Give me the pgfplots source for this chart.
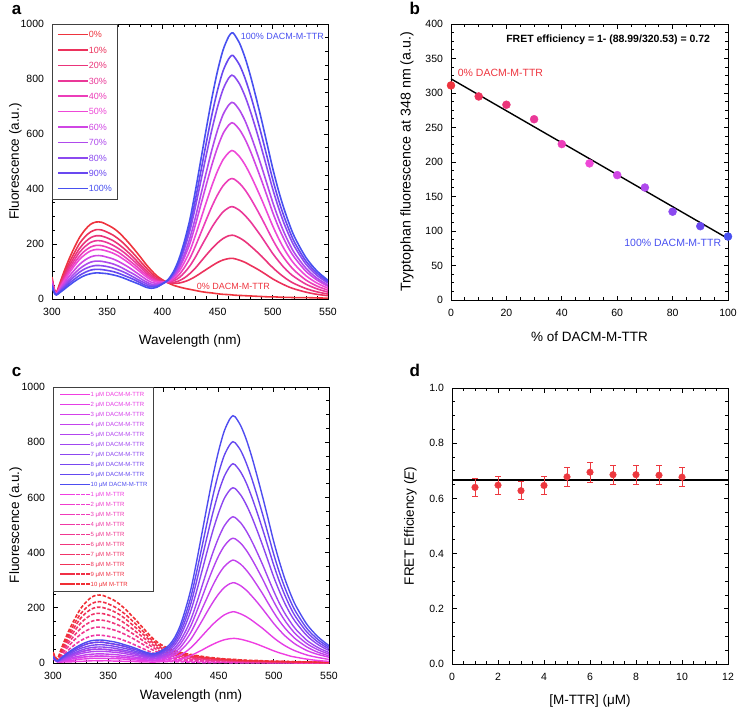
\documentclass[border=0pt]{standalone}
\usepackage{pgfplots}
\pgfplotsset{compat=1.18}
\usepackage{pgfplotstable}
\usepackage{fontspec}
\setmainfont{Liberation Sans}

\definecolor{c0}{RGB}{238,52,62}
\definecolor{c10}{RGB}{236,50,92}
\definecolor{c20}{RGB}{234,52,122}
\definecolor{c30}{RGB}{234,56,152}
\definecolor{c40}{RGB}{236,62,185}
\definecolor{c50}{RGB}{238,72,215}
\definecolor{c60}{RGB}{208,70,228}
\definecolor{c70}{RGB}{175,74,236}
\definecolor{c80}{RGB}{140,74,240}
\definecolor{c90}{RGB}{105,72,240}
\definecolor{c100}{RGB}{72,80,240}

\definecolor{cs1}{RGB}{240,62,225}
\definecolor{cs2}{RGB}{228,62,230}
\definecolor{cs3}{RGB}{212,64,234}
\definecolor{cs4}{RGB}{195,66,237}
\definecolor{cs5}{RGB}{178,68,239}
\definecolor{cs6}{RGB}{160,70,240}
\definecolor{cs7}{RGB}{140,70,240}
\definecolor{cs8}{RGB}{120,70,240}
\definecolor{cs9}{RGB}{100,72,240}
\definecolor{cs10}{RGB}{78,76,240}
\definecolor{cm1}{RGB}{240,62,225}
\definecolor{cm2}{RGB}{240,60,205}
\definecolor{cm3}{RGB}{240,58,185}
\definecolor{cm4}{RGB}{240,56,165}
\definecolor{cm5}{RGB}{240,55,145}
\definecolor{cm6}{RGB}{240,54,125}
\definecolor{cm7}{RGB}{240,52,105}
\definecolor{cm8}{RGB}{240,50,88}
\definecolor{cm9}{RGB}{240,48,70}
\definecolor{cm10}{RGB}{240,46,52}
\definecolor{dred}{RGB}{236,56,62}

\pgfplotstableread{
w a0 a10 a20 a30 a40 a50 a60 a70 a80 a90 a100
300 80 75 71 68 65 62 58 55 52 49 47
302 37 35 33 32 31 29 28 26 25 24 23
304 24 23 22 21 20 19 18 17 16 15 15
307 56 51 47 44 41 38 34 31 28 25 23
310 90 81 74 69 63 59 52 46 41 36 32
315 141 127 116 107 98 91 80 70 62 55 48
320 185 166 152 140 129 119 104 91 81 71 63
325 224 202 184 170 156 144 126 110 98 86 76
330 252 227 207 191 176 162 142 124 110 97 86
335 272 244 223 206 189 175 153 134 118 105 92
340 280 252 230 212 195 180 158 138 122 108 95
345 279 251 229 211 194 179 157 137 121 107 94
350 270 243 222 205 188 174 152 133 118 104 92
355 259 233 213 196 180 167 146 128 113 100 88
360 244 219 200 184 170 157 137 120 106 94 83
365 224 202 184 170 156 144 126 110 98 86 76
370 202 181 166 153 140 130 114 99 88 78 68
375 178 160 146 135 124 114 100 88 77 69 60
380 153 137 125 116 106 98 86 75 66 59 52
385 127 115 105 96 89 82 72 63 56 49 43
390 104 94 86 80 74 69 61 54 48 44 39
395 84 78 72 68 65 62 57 52 49 46 43
400 70 67 65 63 62 62 60 57 56 55 55
405 59 60 60 61 63 65 66 66 68 68 70
410 50 57 60 66 71 77 82 85 91 94 99
415 44 58 66 77 88 100 110 117 128 136 145
420 39 63 77 96 115 134 152 164 183 196 211
425 35 71 93 121 149 176 203 223 250 269 291
430 31 82 113 153 193 232 271 298 337 364 396
435 27 95 137 190 242 293 345 382 432 468 510
440 24 108 161 226 291 355 419 465 528 573 625
445 22 121 184 262 338 414 490 545 619 673 734
450 19 133 204 292 379 466 552 615 699 760 830
455 17 142 220 317 412 507 602 671 763 830 906
460 16 147 230 332 433 532 632 705 803 873 954
463 15 148 232 336 438 540 641 715 814 886 968
465 14 147 231 334 436 537 638 712 810 881 963
470 13 141 222 322 420 517 615 686 781 850 929
475 12 133 209 303 396 487 580 647 736 801 876
480 11 122 192 280 365 449 535 596 679 739 808
485 10 111 174 253 330 406 483 539 614 668 730
490 9 99 155 225 293 361 429 479 545 593 648
495 8 86 134 195 254 313 372 415 472 514 561
500 8 73 114 165 215 265 314 351 399 434 474
505 7 62 96 139 180 222 263 294 334 363 397
510 6 52 80 115 150 184 219 244 277 302 330
515 6 43 66 95 124 152 180 201 229 249 272
520 5 36 55 79 102 125 149 165 188 204 223
530 5 25 38 54 69 85 101 112 127 138 151
540 4 17 26 37 47 58 69 76 86 94 102
550 3 12 18 25 32 39 46 51 58 63 68
}\tabA

\pgfplotstableread{
w s1 s2 s3 s4 s5 s6 s7 s8 s9 s10 m1 m2 m3 m4 m5 m6 m7 m8 m9 m10
300 16 17 18 18 19 20 21 22 23 23 18 20 23 25 28 31 33 35 37 40
302 9 9 10 10 11 11 11 12 12 13 10 11 13 14 16 17 19 20 21 23
304 4 5 5 5 6 6 6 7 7 7 5 6 7 8 9 10 11 12 13 14
307 3 5 7 8 10 11 12 14 16 17 7 11 16 20 25 30 34 38 42 46
310 4 6 9 11 14 17 19 22 24 27 9 17 24 32 41 49 57 64 70 77
315 4 9 13 17 21 25 29 33 38 42 13 25 38 51 65 78 90 101 111 123
320 5 11 17 22 28 33 38 44 50 55 17 33 50 67 86 103 119 133 147 162
325 6 14 20 26 34 40 46 53 60 66 20 40 60 81 104 125 144 162 178 197
330 7 15 23 30 38 45 52 59 68 75 23 45 68 91 117 140 162 182 200 221
335 8 17 24 32 41 49 56 64 73 81 24 49 73 98 126 151 175 196 215 239
340 8 17 25 33 42 50 58 66 75 83 25 50 75 101 130 156 180 202 222 246
345 8 17 25 33 42 50 58 66 75 83 25 50 75 100 129 155 179 201 221 245
350 8 16 24 32 41 48 56 64 72 80 24 48 72 97 125 151 174 195 214 237
355 7 16 23 31 39 46 54 61 69 77 23 46 69 93 120 144 167 187 205 228
360 7 15 22 29 37 44 50 57 65 72 22 44 65 88 113 136 157 176 193 214
365 6 14 20 26 34 40 46 53 60 66 20 40 60 81 104 125 144 162 178 197
370 6 12 18 24 30 36 42 48 54 60 18 36 54 73 94 112 130 145 160 177
375 5 11 16 21 27 32 37 42 48 53 16 32 48 64 83 99 114 128 141 156
380 4 9 14 18 23 27 32 36 41 45 14 27 41 55 71 85 98 110 121 134
385 4 8 11 15 19 23 26 30 34 38 11 23 34 46 59 71 82 92 101 112
390 3 7 10 14 17 21 24 27 31 34 9 19 28 37 48 58 67 75 82 91
395 4 8 12 16 19 23 27 31 35 38 8 15 23 30 39 47 54 61 67 74
400 5 10 16 20 25 29 35 40 44 49 6 13 19 25 33 39 45 51 56 62
405 6 13 20 26 32 38 45 51 57 64 5 11 16 21 27 33 38 42 47 52
410 9 19 29 37 46 54 64 73 81 91 5 9 14 18 23 28 32 36 40 44
415 13 28 43 55 67 79 94 107 120 133 4 8 12 16 20 24 28 32 35 39
420 19 40 63 81 98 115 138 156 174 195 4 7 11 14 18 22 25 28 31 34
425 27 56 87 112 136 159 191 217 241 269 3 6 9 13 16 20 23 25 28 31
430 37 76 119 152 185 216 259 295 328 366 3 6 8 11 14 17 20 22 24 27
435 47 98 153 196 238 279 334 380 422 472 2 5 7 10 13 15 18 20 22 24
440 58 120 188 240 292 342 410 465 517 578 2 4 7 9 11 14 16 18 19 21
445 68 141 221 283 343 402 482 547 608 680 2 4 6 8 10 12 14 16 17 19
450 77 159 250 320 388 454 544 619 688 768 2 3 5 7 9 11 12 14 15 17
455 84 174 273 349 423 496 595 675 751 839 2 3 5 6 8 10 11 13 14 15
460 88 183 287 367 446 522 626 711 790 883 1 3 4 6 7 9 10 11 12 14
463 89 186 291 373 452 530 635 722 802 896 1 3 4 5 7 8 10 11 12 13
465 89 185 290 371 450 527 632 718 798 892 1 3 4 5 7 8 9 10 11 13
470 86 178 280 358 434 508 609 692 770 860 1 2 3 5 6 7 8 9 10 11
475 81 168 264 337 409 479 574 653 725 811 1 2 3 4 5 7 8 8 9 10
480 75 155 243 311 377 442 530 602 669 748 1 2 3 4 5 6 7 8 8 9
485 68 140 220 281 341 400 479 544 605 676 1 2 3 4 5 5 6 7 8 9
490 60 125 195 250 303 355 425 483 537 600 1 2 2 3 4 5 6 6 7 8
495 52 108 169 216 262 307 368 418 465 520 1 1 2 3 4 5 5 6 6 7
500 44 91 143 183 222 260 311 354 393 439 1 1 2 3 4 4 5 5 6 7
505 37 76 120 153 186 217 261 296 329 368 1 1 2 3 3 4 5 5 6 6
510 31 63 99 127 154 180 216 246 273 305 1 1 2 2 3 4 4 5 5 6
515 25 52 82 105 127 149 178 202 225 252 1 1 2 2 3 3 4 4 5 5
520 21 43 67 86 104 122 147 166 185 207 0 1 1 2 2 3 3 4 4 5
530 14 29 45 58 70 82 99 112 125 140 0 1 1 2 2 2 3 3 4 4
540 9 20 31 39 48 56 67 76 85 95 0 1 1 1 2 2 2 3 3 3
550 6 13 21 26 32 38 45 51 57 63 0 1 1 1 1 2 2 2 2 3
}\tabC

\pgfplotstableread{
x y e
1 0.640 0.033
2 0.648 0.033
3 0.628 0.033
4 0.647 0.033
5 0.678 0.035
6 0.695 0.036
7 0.686 0.035
8 0.686 0.035
9 0.684 0.035
10 0.677 0.035
}\tabD

\pgfplotsset{
  panel/.style={
    scale only axis, anchor=south west,
    axis line style={line width=0.8pt, black},
    tick style={black, line width=0.8pt},
    major tick length=4.5pt, minor tick length=3pt,
    tick label style={font=\fontsize{10.5}{12}\selectfont},
    label style={font=\fontsize{13.5}{16}\selectfont},
    /pgf/number format/assume math mode=true,
    /pgf/number format/1000 sep={},
    xticklabel style={yshift=-5.5pt},
    yticklabel style={xshift=-4.5pt},
  },
}

\begin{document}
\begin{tikzpicture}
\path[use as bounding box] (0pt,0pt) rectangle (738pt,-709pt);
\tikzset{plab/.style={anchor=base west, inner sep=0pt, font=\fontsize{17}{17}\selectfont\bfseries}}
\node[plab] at (11.7pt,-15pt) {a};
\node[plab] at (409.3pt,-15pt) {b};
\node[plab] at (11.7pt,-376.7pt) {c};
\node[plab] at (409.3pt,-376.7pt) {d};

% ---------------- panel a ----------------
\begin{axis}[panel, at={(52pt,-299pt)}, width=276pt, height=275pt,
  xmin=300, xmax=550, ymin=0, ymax=1000,
  xtick={300,350,...,550}, ytick={0,200,...,1000},
  minor x tick num=4, minor y tick num=3,
  xlabel={Wavelength (nm)}, ylabel={Fluorescence (a.u.)},
  xlabel style={at={(axis description cs:0.5,-0.165)}, anchor=base},
  ylabel style={at={(axis description cs:-0.12,0.5)}, anchor=base},
  every axis plot/.append style={line width=1.6pt, smooth},
  legend style={at={(0,1)}, anchor=north west, draw=black!75, line width=0.6pt,
    fill=white, inner xsep=5pt, inner ysep=7pt, row sep=8.9pt, column sep=0pt,
    font=\fontsize{9}{9}\selectfont,
    nodes={inner sep=0pt, text height=6.5pt, text depth=0pt}},
  legend cell align=left,
  legend image code/.code={\draw[#1, line width=1.6pt] (0pt,0pt) -- (26pt,0pt); \path (0pt,0pt) -- (30pt,0pt);},
  legend entries={\textcolor{c0}{0\%},\textcolor{c10}{10\%},\textcolor{c20}{20\%},\textcolor{c30}{30\%},\textcolor{c40}{40\%},\textcolor{c50}{50\%},\textcolor{c60}{60\%},\textcolor{c70}{70\%},\textcolor{c80}{80\%},\textcolor{c90}{90\%},\textcolor{c100}{100\%}},
]
\pgfplotsinvokeforeach{0,10,20,30,40,50,60,70,80,90,100}{
  \addplot[c#1] table[x=w, y=a#1] {\tabA};
}
\node[anchor=west, inner sep=0pt, text=c100, font=\fontsize{9}{9}\selectfont] at (axis cs:471,956) {100\% DACM-M-TTR};
\node[anchor=west, inner sep=0pt, text=c0, font=\fontsize{9}{9}\selectfont] at (axis cs:431,47) {0\% DACM-M-TTR};
\end{axis}

% ---------------- panel b ----------------
\begin{axis}[panel, at={(451pt,-300pt)}, width=277pt, height=276pt,
  xmin=0, xmax=100, ymin=0, ymax=400,
  xtick={0,20,...,100}, ytick={0,50,...,400},
  minor x tick num=3, minor y tick num=3,
  xlabel={\% of DACM-M-TTR}, ylabel={Tryptophan fluorescence at 348 nm (a.u.)},
  xlabel style={at={(axis description cs:0.5,-0.151)}, anchor=base},
  ylabel style={at={(axis description cs:-0.146,0.5)}, anchor=base, font=\fontsize{14.2}{16}\selectfont},
  clip=false,
  scatter/classes={
    p0={mark=*, draw=c0, fill=c0}, p10={mark=*, draw=c10, fill=c10},
    p20={mark=*, draw=c20, fill=c20}, p30={mark=*, draw=c30, fill=c30},
    p40={mark=*, draw=c40, fill=c40}, p50={mark=*, draw=c50, fill=c50},
    p60={mark=*, draw=c60, fill=c60}, p70={mark=*, draw=c70, fill=c70},
    p80={mark=*, draw=c80, fill=c80}, p90={mark=*, draw=c90, fill=c90},
    p100={mark=*, draw=c100, fill=c100}},
]
\addplot[black, line width=1.4pt] coordinates {(0,320.53) (100,88.99)};
\addplot[scatter, only marks, mark size=4pt, point meta=explicit symbolic] coordinates {
  (0,311) [p0] (10,295) [p10] (20,283) [p20] (30,262) [p30] (40,226) [p40]
  (50,198) [p50] (60,181) [p60] (70,163) [p70] (80,128) [p80] (90,107) [p90] (100,92) [p100]
};
\node[anchor=west, inner sep=0pt, font=\fontsize{10.5}{12}\selectfont\bfseries] at (axis cs:19.9,376.8) {FRET efficiency = 1- (88.99/320.53) = 0.72};
\node[anchor=west, inner sep=0pt, text=c0, font=\fontsize{10.5}{12}\selectfont] at (axis cs:2.4,329.4) {0\% DACM-M-TTR};
\node[anchor=west, inner sep=0pt, text=c100, font=\fontsize{10.5}{12}\selectfont] at (axis cs:62.5,82.6) {100\% DACM-M-TTR};
\end{axis}

% ---------------- panel c ----------------
\begin{axis}[panel, at={(53pt,-663pt)}, width=276pt, height=276pt,
  xmin=300, xmax=550, ymin=0, ymax=1000,
  xtick={300,350,...,550}, ytick={0,200,...,1000},
  minor x tick num=4, minor y tick num=3,
  xlabel={Wavelength (nm)}, ylabel={Fluorescence (a.u.)},
  xlabel style={at={(axis description cs:0.5,-0.132)}, anchor=base},
  ylabel style={at={(axis description cs:-0.123,0.5)}, anchor=base},
  every axis plot/.append style={line width=1.4pt},
  legend style={at={(0,1)}, anchor=north west, draw=black!75, line width=0.6pt,
    fill=white, inner xsep=6pt, inner ysep=5pt, row sep=5.48pt, column sep=0pt,
    font=\fontsize{6}{6}\selectfont,
    nodes={inner sep=0pt, text height=4.5pt, text depth=0pt}},
  legend cell align=left,
  legend image code/.code={\draw[#1, line width=1.4pt] (1pt,0pt) -- (27pt,0pt); \path (0pt,0pt) -- (30pt,0pt);},
  legend entries={
    \textcolor{cs1}{1 μM DACM-M-TTR},\textcolor{cs2}{2 μM DACM-M-TTR},\textcolor{cs3}{3 μM DACM-M-TTR},\textcolor{cs4}{4 μM DACM-M-TTR},\textcolor{cs5}{5 μM DACM-M-TTR},
    \textcolor{cs6}{6 μM DACM-M-TTR},\textcolor{cs7}{7 μM DACM-M-TTR},\textcolor{cs8}{8 μM DACM-M-TTR},\textcolor{cs9}{9 μM DACM-M-TTR},\textcolor{cs10}{10 μM DACM-M-TTR},
    \textcolor{cm1}{1 μM M-TTR},\textcolor{cm2}{2 μM M-TTR},\textcolor{cm3}{3 μM M-TTR},\textcolor{cm4}{4 μM M-TTR},\textcolor{cm5}{5 μM M-TTR},
    \textcolor{cm6}{6 μM M-TTR},\textcolor{cm7}{7 μM M-TTR},\textcolor{cm8}{8 μM M-TTR},\textcolor{cm9}{9 μM M-TTR},\textcolor{cm10}{10 μM M-TTR}},
]
\pgfplotsinvokeforeach{1,...,10}{\addlegendimage{cs#1}}
\pgfplotsinvokeforeach{1,...,10}{\addlegendimage{cm#1, dash pattern=on 3.6pt off 1.6pt}}
\pgfplotsinvokeforeach{1,...,10}{
  \addplot[cm#1, smooth, line width=1.6pt, dash pattern=on 3.6pt off 1.8pt, forget plot] table[x=w, y=m#1] {\tabC};
}
\pgfplotsinvokeforeach{1,...,10}{
  \addplot[cs#1, smooth, forget plot] table[x=w, y=s#1] {\tabC};
}
\end{axis}

% ---------------- panel d ----------------
\begin{axis}[panel, at={(452pt,-664pt)}, width=276pt, height=276pt,
  xmin=0, xmax=12, ymin=0, ymax=1,
  xtick={0,2,...,12}, ytick={0,0.2,0.4,0.6,0.8,1},
  minor x tick num=3, minor y tick num=3,
  yticklabel style={/pgf/number format/fixed, /pgf/number format/fixed zerofill, /pgf/number format/precision=1},
  xlabel={[M-TTR] (μM)}, ylabel={FRET Efficiency (\textit{E})},
  xlabel style={at={(axis description cs:0.5,-0.145)}, anchor=base},
  ylabel style={at={(axis description cs:-0.138,0.5)}, anchor=base},
  clip=false,
]
\addplot[black, line width=1.4pt] coordinates {(0,0.667) (12,0.667)};
\addplot[dred, only marks, mark=*, mark size=3.3pt,
  error bars/.cd, y dir=both, y explicit,
  error bar style={line width=1pt, dred},
  error mark options={rotate=90, mark size=3pt, line width=1pt, dred}]
  table[x=x, y=y, y error=e] {\tabD};
\end{axis}
\end{tikzpicture}
\end{document}
